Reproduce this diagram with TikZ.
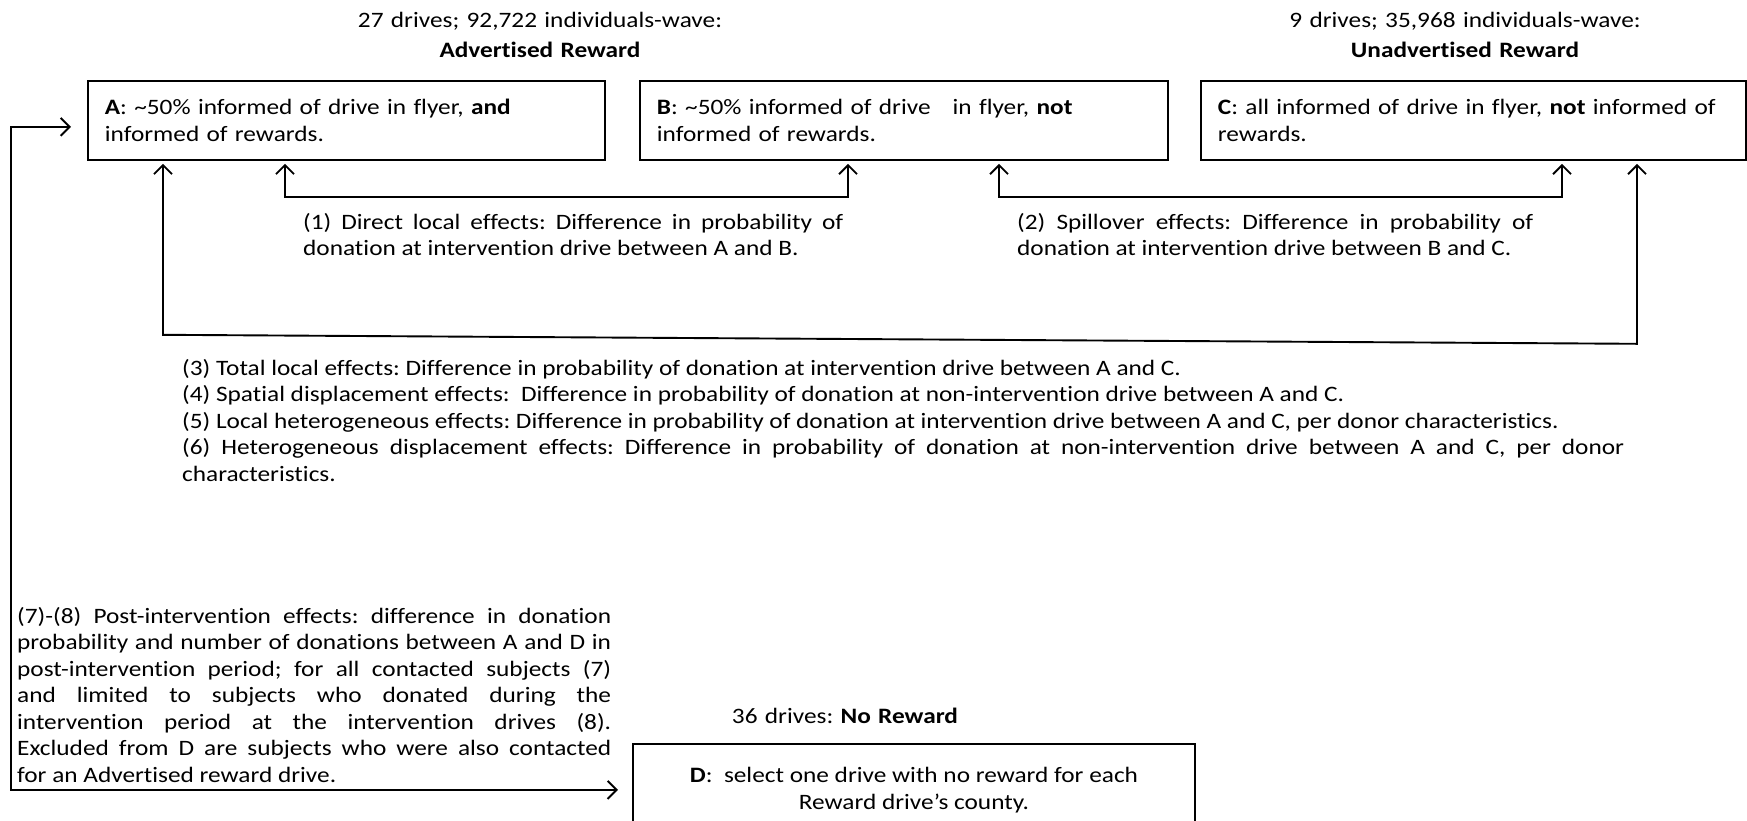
\documentclass[tikz,border=0pt]{standalone}
\usepackage{fontspec}
\setmainfont{Carlito}[FakeStretch=1.15, Ligatures=NoCommon]
\usetikzlibrary{arrows.meta, positioning, calc}
\newcommand{\diagfont}{\fontsize{22pt}{26.5pt}\selectfont\frenchspacing}
\setlength{\parindent}{0pt}
\setlength{\parskip}{0pt}

\begin{document}
\begin{tikzpicture}[
  x=1pt, y=-1pt,
  every node/.style={font=\diagfont, inner sep=0pt},
  drivebox/.style={draw, line width=1.8pt, anchor=north west, minimum height=79pt, inner xsep=17pt, align=left},
  effect/.style={anchor=base west, align=justify, execute at begin node={\tolerance=9999\hyphenpenalty=10000\emergencystretch=20pt}},
  header/.style={anchor=base, align=center, text width=420pt},
  link/.style={line width=1.9pt, {Straight Barb[length=9pt, width=18pt]}-{Straight Barb[length=9pt, width=18pt]}, shorten <=3pt, shorten >=3pt}
]
\path[use as bounding box, fill=white] (0,0) rectangle (1747,820);

\node[header] (hdrAB) at (540,27) {27 drives; 92,722 individuals-wave:\\[4pt]\textbf{Advertised Reward}};
\node[header] (hdrC) at (1465,27) {9 drives; 35,968 individuals-wave:\\[4pt]\textbf{Unadvertised Reward}};

\node[drivebox, text width=483pt] (A) at (87,80) {\textbf{A}: \textasciitilde50\% informed of drive in flyer, \textbf{and}\\informed of rewards.};
\node[drivebox, text width=494pt] (B) at (639,80) {\textbf{B}: \textasciitilde50\% informed of drive\ \ \ in flyer, \textbf{not}\\informed of rewards.};
\node[drivebox, text width=511pt] (C) at (1200,80) {\textbf{C}: all informed of drive in flyer, \textbf{not} informed of\\rewards.};

\node[effect, text width=540pt] (eff1) at (303,229) {(1) Direct local effects: Difference in probability of\linebreak donation at intervention drive between A and B.};
\node[effect, text width=516pt] (eff2) at (1017,229) {(2) Spillover effects: Difference in probability of\linebreak donation at intervention drive between B and C.};
\node[effect, text width=1442pt] (eff36) at (182,375) {(3) Total local effects: Difference in probability of donation at intervention drive between A and C.\par
(4) Spatial displacement effects:\ \ Difference in probability of donation at non-intervention drive between A and C.\par
(5) Local heterogeneous effects: Difference in probability of donation at intervention drive between A and C, per donor characteristics.\par
(6) Heterogeneous displacement effects: Difference in probability of donation at non-intervention drive between A and C, per donor\linebreak characteristics.};
\node[effect, text width=594pt] (eff78) at (17,623) {(7)-(8) Post-intervention effects: difference in donation\linebreak probability and number of donations between A and D in\linebreak post-intervention period; for all contacted subjects (7)\linebreak and limited to subjects who donated during the\linebreak intervention period at the intervention drives (8).\linebreak Excluded from D are subjects who were also contacted\linebreak for an Advertised reward drive.};

\node[header] (hdrD) at (845,723) {36 drives: \textbf{No Reward}};
\node[drivebox, align=center, minimum width=562pt, minimum height=92pt] (D) at (632,743) {\textbf{D}:\ \ select one drive with no reward for each\\Reward drive’s county.};

\draw[link] ([xshift=198pt]A.south west) -- ++(0,36) -| ([xshift=209pt]B.south west);
\draw[link] ([xshift=360pt]B.south west) -- ++(0,36) -| ([xshift=362pt]C.south west);
\draw[link] ([xshift=76pt]A.south west) -- ++(0,174) -- ([xshift=437pt,yshift=-183pt]C.south west) -- ([xshift=437pt]C.south west);
\draw[link, shorten <=16pt, shorten >=14pt] ([yshift=-6.5pt]A.west) -- ++(-76,0) |- (D.west);
\end{tikzpicture}
\end{document}
